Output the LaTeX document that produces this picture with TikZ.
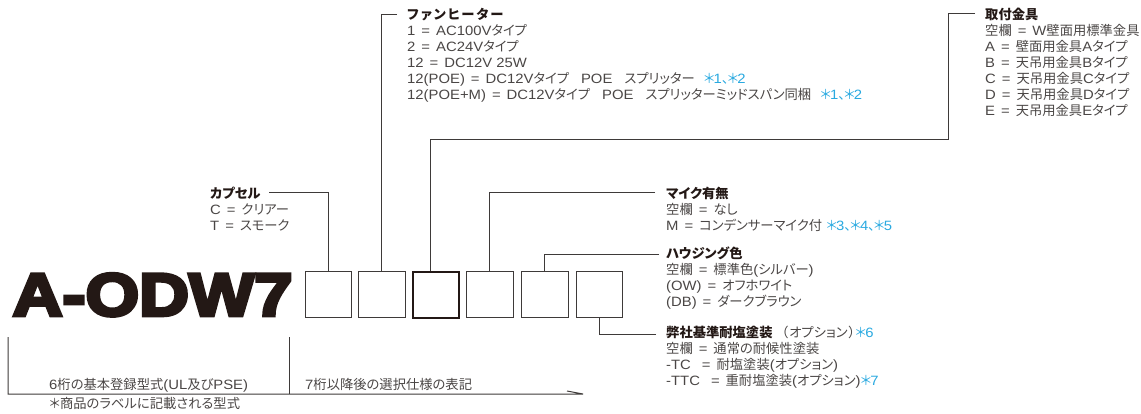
\documentclass[tikz,border=0pt]{standalone}
\usepackage{fontspec}
\setmainfont[FakeStretch=1.1]{Liberation Sans}
\newfontfamily\jfam[Scale=0.985,RawFeature=+palt]{Noto Sans CJK JP}
\newfontfamily\jwide[Scale=0.985,RawFeature=+palt,LetterSpace=15]{Noto Sans CJK JP}
\newfontfamily\titlefont[FakeStretch=1.15,FakeBold=6]{Liberation Sans Bold}
\definecolor{txt}{HTML}{4A4645}
\definecolor{head}{HTML}{231815}
\definecolor{note}{HTML}{29A9E0}
\definecolor{ln}{HTML}{3E3A39}
\newcommand{\jj}[1]{{\jfam #1}}
\newcommand{\eq}{\hspace{6pt}=\hspace{6pt}}
\newcommand{\astr}[1]{\jj{＊}\kern-1pt #1}
\newcommand{\ten}{\jj{、}\kern-1pt }
\newcommand{\nt}[1]{\textcolor{note}{#1}}
\newcommand{\hd}[1]{\textcolor{head}{\jfam\bfseries #1}}
\tikzset{
  lab/.style={anchor=north west,inner sep=0pt,align=left,text=txt,
    font=\fontsize{13.5}{15.9}\selectfont},
  cell/.style={draw=ln,line width=1pt,minimum width=46.5pt,minimum height=46pt,inner sep=0pt,anchor=north west},
  heavycell/.style={cell,draw=head,line width=2pt},
  conn/.style={draw=ln,line width=1pt},
}
\begin{document}
\begin{tikzpicture}[x=1pt,y=-1pt]
\useasboundingbox (0,0) rectangle (1141,414);
\node[inner sep=0pt,anchor=base west,text=head] (title) at (12.5,315.5)
  {\titlefont\fontsize{60}{60}\selectfont A-ODW7};
\node[cell] (b1) at (304.5,271) {};
\node[cell] (b2) at (358,271) {};
\node[heavycell] (b3) at (411.5,271) {};
\node[cell] (b4) at (466,271) {};
\node[cell] (b5) at (521,271) {};
\node[cell] (b6) at (575.5,271) {};

\node[lab] (cap) at (210,187) {\hd{カプセル}\\C\eq\jj{クリアー}\\T\eq\jj{スモーク}};
\node[lab] (fan) at (407,8) {\textcolor{head}{\jwide\bfseries ファンヒーター}\\1\eq AC100V\jj{タイプ}\\2\eq AC24V\jj{タイプ}\\12\eq DC12V 25W\\12(POE)\eq DC12V\jj{タイプ}\hspace{12pt}POE\hspace{12pt}\jj{スプリッター}\hspace{9pt}\nt{\astr{1}\ten\astr{2}}\\12(POE+M)\eq DC12V\jj{タイプ}\hspace{12pt}POE\hspace{12pt}\jj{スプリッターミッドスパン同梱}\hspace{9pt}\nt{\astr{1}\ten\astr{2}}};
\node[lab] (mnt) at (985,8) {\hd{取付金具}\\\jj{空欄}\eq W\jj{壁面用標準金具}\\A\eq\jj{壁面用金具}A\jj{タイプ}\\B\eq\jj{天吊用金具}B\jj{タイプ}\\C\eq\jj{天吊用金具}C\jj{タイプ}\\D\eq\jj{天吊用金具}D\jj{タイプ}\\E\eq\jj{天吊用金具}E\jj{タイプ}};
\node[lab] (mic) at (666,187) {\hd{マイク有無}\\\jj{空欄}\eq\jj{なし}\\M\eq\jj{コンデンサーマイク付} \nt{\astr{3}\ten\astr{4}\ten\astr{5}}};
\node[lab] (hsg) at (666,247) {\hd{ハウジング色}\\\jj{空欄}\eq\jj{標準色}(\jj{シルバー})\\(OW)\eq\jj{オフホワイト}\\(DB)\eq\jj{ダークブラウン}};
\node[lab] (salt) at (666,326) {\hd{弊社基準耐塩塗装}\hspace{9pt}\jj{（}\hspace{1pt}\jj{オプション}\hspace{1pt}\jj{）}\nt{\astr{6}}\\\jj{空欄}\eq\jj{通常の耐候性塗装}\\-TC\hspace{5pt}\eq\jj{耐塩塗装}(\jj{オプション})\\-TTC\hspace{5pt}\eq\jj{重耐塩塗装}(\jj{オプション})\nt{\astr{7}}};
\node[lab] (base) at (49,378) {6\jj{桁の基本登録型式}(UL\jj{及び}PSE)};
\node[lab] (star) at (49,397) {\jj{＊商品のラベルに記載される型式}};
\node[lab] (opt) at (305,378) {7\jj{桁以降後の選択仕様の表記}};

\coordinate (capE) at (269,193);
\coordinate (fanE) at (397,15);
\coordinate (mntE) at (975,14);
\coordinate (micE) at (655,193);
\coordinate (hsgE) at (659,255);
\coordinate (saltE) at (656,334);
\coordinate (c1) at (430,140);
\coordinate (c2) at (948,140);
\coordinate (tl) at (8,337);
\coordinate (tm) at (289,337);
\coordinate (bl) at (8,394);
\coordinate (bm) at (289,394);
\coordinate (br) at (583,394);
\coordinate (barb) at (567,391);

\draw[conn] (capE) -| (b1.north);
\draw[conn] (fanE) -| (b2.north);
\draw[conn] (mntE) -- (mntE -| c2) -- (c2) -- (c1) -- (c1 |- b3.north);
\draw[conn] (micE) -| (b4.north);
\draw[conn] (hsgE) -| (b5.north);
\draw[conn] (saltE) -| (b6.south);
\draw[conn] (tl) -- (bl) -- (br) -- (barb);
\draw[conn,line width=.8pt] (tm) -- (bm);
\end{tikzpicture}
\end{document}
